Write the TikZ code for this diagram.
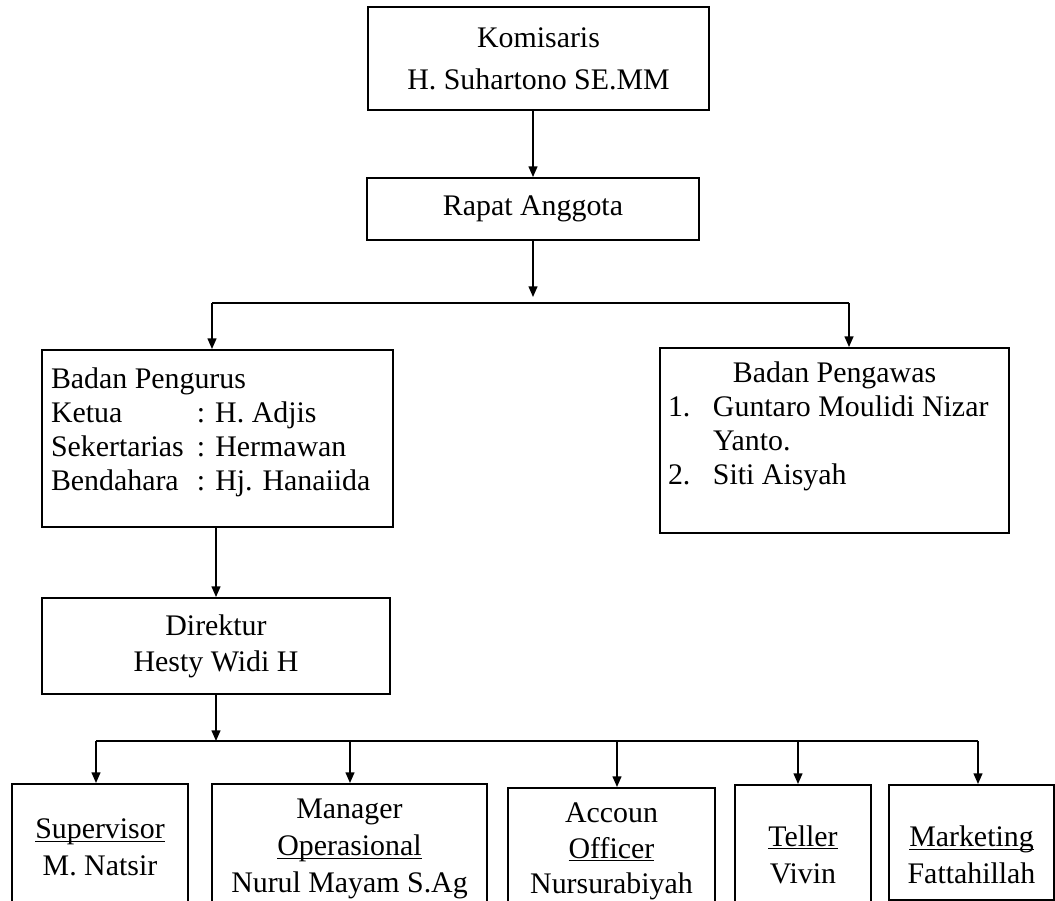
\documentclass[tikz,border=0pt]{standalone}
\usepackage{fontspec}
\setmainfont{Liberation Serif}
\usetikzlibrary{arrows.meta}
\newcommand{\ulword}[1]{\underline{\smash{#1}}}

\begin{document}
\begin{tikzpicture}[
  box/.style={draw,line width=1.1pt,inner sep=0pt,align=center,font=\fontsize{17}{21}\selectfont},
  link/.style={line width=0.85pt,-{Triangle[length=6pt,width=5pt]}},
  bus/.style={line width=0.85pt}]
  \useasboundingbox (0,0) rectangle (21.1,-18.02);
  \clip (0,0) rectangle (21.1,-18.02);
  \node[box,minimum width=6.82cm,minimum height=2.06cm,font=\fontsize{17}{23.8}\selectfont] (kom) at (10.77,-1.17) {Komisaris\\H. Suhartono SE.MM};
  \node[box,minimum width=6.64cm,minimum height=1.24cm] (rapat) at (10.66,-4.18) {Rapat Anggota};
  \node[box,minimum width=7.02cm,minimum height=3.54cm,text width=6.66cm,inner xsep=0.18cm,align=flush left,font=\fontsize{17}{19.3}\selectfont] (peng) at (4.35,-8.77)
    {Badan Pengurus\\\makebox[2.92cm][l]{Ketua}: H. Adjis\\\makebox[2.92cm][l]{Sekertarias}: Hermawan\\\makebox[2.92cm][l]{Bendahara}: Hj. Hanaiida\rule[-10.5pt]{0pt}{0pt}};
  \node[box,minimum width=6.98cm,minimum height=3.70cm,text width=6.66cm,inner xsep=0.16cm,align=flush left,font=\fontsize{17}{19.3}\selectfont] (awas) at (16.69,-8.81)
    {\makebox[6.66cm]{Badan Pengawas}\\\makebox[0.9cm][l]{1.}Guntaro Moulidi Nizar\\\hspace*{0.9cm}Yanto.\\\makebox[0.9cm][l]{2.}Siti Aisyah\rule[-19.6pt]{0pt}{0pt}};
  \node[box,minimum width=6.96cm,minimum height=1.92cm,font=\fontsize{17}{20.4}\selectfont] (dir) at (4.32,-12.92) {Direktur\\Hesty Widi H};
  \node[box,anchor=north,minimum width=3.52cm,minimum height=2.94cm] (sup) at (2.00,-15.66) {\ulword{Supervisor}\\M. Natsir};
  \node[box,anchor=north,minimum width=5.50cm,minimum height=2.60cm,font=\fontsize{17}{21.2}\selectfont] (man) at (6.99,-15.66) {Manager\\\ulword{Operasional}\\Nurul Mayam S.Ag};
  \node[box,anchor=north,minimum width=4.14cm,minimum height=2.54cm,font=\fontsize{17}{20.4}\selectfont] (acc) at (12.23,-15.74) {Accoun\\\ulword{Officer}\\Nursurabiyah};
  \node[box,anchor=north,minimum width=2.72cm,minimum height=3.20cm] (tel) at (16.06,-15.68) {\ulword{Teller}\\Vivin};
  \node[box,anchor=north,minimum width=3.30cm,minimum height=2.30cm] (mkt) at (19.43,-15.68) {};
  \node[align=center,inner sep=0pt,font=\fontsize{17}{21}\selectfont] (mkttext) at ([yshift=-0.46cm]mkt.center) {\ulword{Marketing}\\Fattahillah};

  \draw[link] (rapat.north |- kom.south) -- (rapat.north);
  \coordinate (t1) at (10.66,-5.94);
  \coordinate (b1l) at (4.24,-6.06);
  \coordinate (b1r) at (16.98,-6.06);
  \draw[link] (rapat.south) -- (t1);
  \draw[bus] (b1l) -- (b1r);
  \draw[link] (b1l) -- (b1l |- peng.north);
  \draw[link] (b1r) -- (b1r |- awas.north);
  \draw[link] (dir.north |- peng.south) -- (dir.north);
  \coordinate (b2l) at (1.92,-14.82);
  \coordinate (b2r) at (19.56,-14.82);
  \draw[link] (dir.south) -- (dir.south |- b2l);
  \draw[bus] (b2l) -- (b2r);
  \foreach \n/\x in {sup/1.92,man/7.00,acc/12.34,tel/15.96,mkt/19.56}
  {
    \coordinate (j\n) at (\x,-14.82);
    \draw[link] (j\n) -- (j\n |- \n.north);
  }
\end{tikzpicture}
\end{document}
